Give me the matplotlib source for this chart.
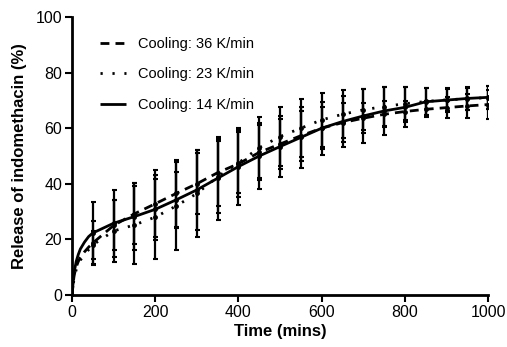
import matplotlib
matplotlib.use("Agg")
import matplotlib.pyplot as plt
import numpy as np

plt.rcParams['font.family'] = ['Liberation Sans', 'DejaVu Sans']

# Sampling times (min)
t_early = [0, 5, 10, 15, 20, 30, 40]
t_bars = [50, 100, 150, 200, 250, 300, 350, 400, 450, 500, 550, 600, 650,
          700, 750, 800, 850, 900, 950, 1000]

# Cooling 36 K/min (dashed)
c36_early = [0, 7, 10, 12, 13.5, 15.5, 17.2]
c36_mean = [18.7, 25.0, 29.2, 32.8, 36.5, 40.0, 44.0, 47.2, 51.3, 54.3, 57.3,
            60.0, 62.0, 63.6, 65.0, 66.0, 66.8, 67.4, 68.0, 68.5]
c36_err = [8, 9, 11, 12, 12, 11, 12, 12, 10, 9, 9, 7.5, 7, 5.5, 4.7, 3.7,
           2.8, 3.8, 4.4, 5.3]

# Cooling 23 K/min (dotted)
c23_early = [0, 6, 9, 11, 12.5, 14.5, 16.3]
c23_mean = [18.0, 23.0, 25.2, 28.0, 32.0, 36.5, 42.5, 47.5, 53.0, 57.0, 60.0,
            63.0, 65.0, 66.6, 67.8, 68.8, 69.6, 70.2, 70.6, 71.0]
c23_err = [5, 11, 14, 15, 16, 15.5, 13, 11, 11, 10.7, 10.5, 9.6, 8.7, 7.4,
           6.9, 5.9, 4.7, 4, 4, 4]

# Cooling 14 K/min (solid)
c14_early = [0, 8, 12, 14.5, 16.5, 19, 21]
c14_mean = [22.3, 25.8, 28.2, 30.8, 34.2, 37.8, 42.0, 46.2, 50.0, 53.4, 56.7,
            60.0, 62.4, 64.4, 66.2, 67.5, 69.5, 70.1, 70.7, 71.1]
c14_err = [11, 12, 12, 11, 10, 14.5, 15, 14, 12, 11, 11, 9.5, 9, 9.6, 8.5,
           7.2, 4.8, 4.2, 4, 4.1]

x_ticks = [0, 200, 400, 600, 800, 1000]
y_ticks = [0, 20, 40, 60, 80, 100]

fig = plt.figure(figsize=(5.07, 3.47), dpi=100)
ax = fig.add_axes([0.142, 0.150, 0.821, 0.801])

series = [
    ("Cooling: 36 K/min", c36_early, c36_mean, c36_err, (0, (3.2, 2.2))),
    ("Cooling: 23 K/min", c23_early, c23_mean, c23_err, (0, (0.8, 3.5))),
    ("Cooling: 14 K/min", c14_early, c14_mean, c14_err, '-'),
]

for label, early, mean, err, ls in series:
    tt = t_early + t_bars
    yy = early + mean
    ax.plot(tt, yy, color='black', lw=2.0, linestyle=ls, label=label,
            solid_capstyle='butt')
    ax.errorbar(t_bars, mean, yerr=err, fmt='none', ecolor='black',
                elinewidth=1.6, capsize=1.8, capthick=1.5)
    ax.plot(t_bars, mean, 'o', color='black', ms=2.5)

ax.set_xlim(0, 1000)
ax.set_ylim(0, 100)
ax.set_xticks(x_ticks)
ax.set_yticks(y_ticks)
ax.tick_params(axis='both', labelsize=11.5, width=1.5, length=5,
               direction='out', pad=2)
for s in ['top', 'right']:
    ax.spines[s].set_visible(False)
for s in ['left', 'bottom']:
    ax.spines[s].set_linewidth(2.0)

ax.set_xlabel("Time (mins)", fontsize=12, fontweight='bold', labelpad=3)
ax.set_ylabel("Release of indomethacin (%)", fontsize=12, fontweight='bold',
              labelpad=6)

leg = ax.legend(loc='upper left', bbox_to_anchor=(0.035, 0.975), frameon=False,
                fontsize=10.5, handlelength=1.8, handletextpad=0.8,
                labelspacing=1.12)

fig.savefig("out.png", dpi=100)
